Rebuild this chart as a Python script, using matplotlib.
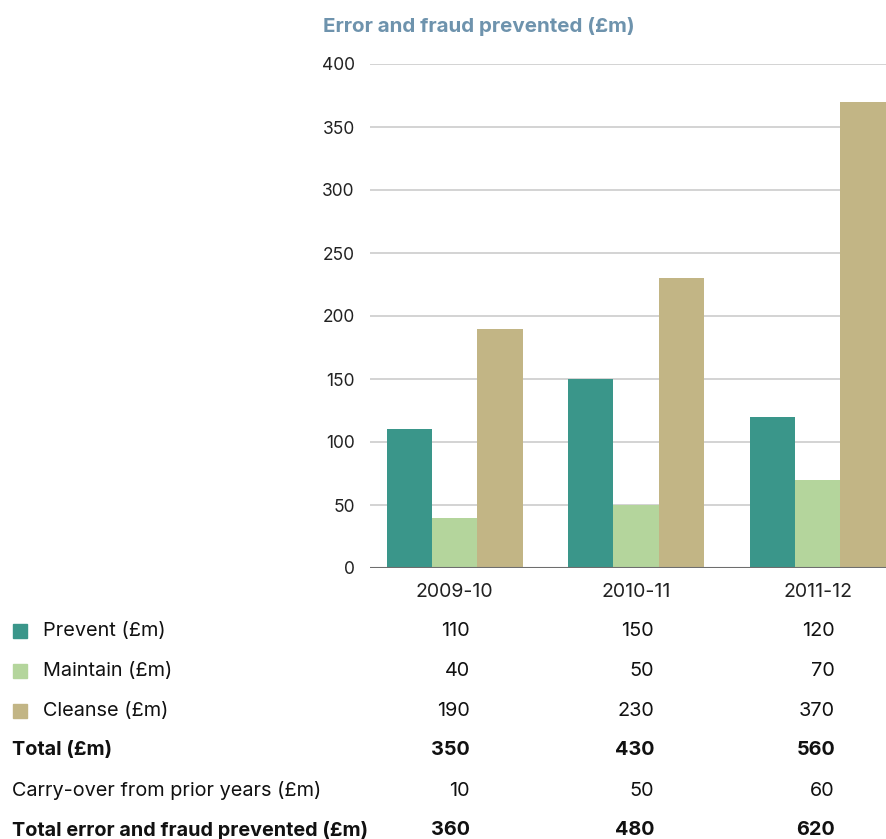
import matplotlib
matplotlib.use("Agg")
import matplotlib.pyplot as plt
from matplotlib.patches import Rectangle
import numpy as np

plt.rcParams['font.family'] = ['Inter', 'DejaVu Sans']

years = ["2009-10", "2010-11", "2011-12"]
prevent = [110, 150, 120]
maintain = [40, 50, 70]
cleanse = [190, 230, 370]
total = [350, 430, 560]
carry_over = [10, 50, 60]
grand_total = [360, 480, 620]

series_names = ["Prevent (£m)", "Maintain (£m)", "Cleanse (£m)"]
colors = ["#3a968a", "#b4d59c", "#c2b585"]
title = "Error and fraud prevented (£m)"
yticks = [0, 50, 100, 150, 200, 250, 300, 350, 400]

W, H = 886, 839
fig = plt.figure(figsize=(W / 100, H / 100), dpi=100)
ax = fig.add_axes([370 / W, 1 - 568 / H, 516 / W, (568 - 64) / H])

x = np.arange(len(years))
bw = 0.25
for i, (vals, c) in enumerate(zip([prevent, maintain, cleanse], colors)):
    ax.bar(x + (i - 1) * bw, vals, width=bw, color=c, zorder=3)

ax.set_xlim(-0.466, 2.377)
ax.set_ylim(0, 400)
ax.set_yticks(yticks)
ax.set_yticklabels([str(t) for t in yticks], fontsize=12.5, color="#222222")
ax.set_xticks(x)
ax.set_xticklabels(years, fontsize=14, color="#222222")
ax.tick_params(axis='both', length=0)
ax.tick_params(axis='y', pad=11)
ax.tick_params(axis='x', pad=11)
for t in yticks[1:]:
    ax.axhline(t, color="#cccccc", lw=1.2, zorder=1)
ax.axhline(0, color="#6e6e6e", lw=1.5, zorder=4)
for s in ax.spines.values():
    s.set_visible(False)

fig.text(323 / W, 1 - 27 / H, title, fontsize=14.8, fontweight='bold',
         color="#6e93ad", va='center', ha='left')

# table
row_y = [631, 671, 711, 750, 791, 830]
col_right = [470, 654, 835]
rows = [
    (series_names[0], prevent, 'normal', colors[0]),
    (series_names[1], maintain, 'normal', colors[1]),
    (series_names[2], cleanse, 'normal', colors[2]),
    ("Total (£m)", total, 'bold', None),
    ("Carry-over from prior years (£m)", carry_over, 'normal', None),
    ("Total error and fraud prevented (£m)", grand_total, 'bold', None),
]
for (label, vals, weight, col), yy in zip(rows, row_y):
    yf = 1 - yy / H
    if col is not None:
        fig.patches.append(Rectangle((13 / W, 1 - (yy + 7) / H), 14 / W, 14 / H,
                                     transform=fig.transFigure, color=col, figure=fig))
        lx = 43
    else:
        lx = 12
    fig.text(lx / W, yf, label, fontsize=14.3, fontweight=weight, color="#111111",
             va='center', ha='left')
    for v, cr in zip(vals, col_right):
        fig.text(cr / W, yf, str(v), fontsize=14.3, fontweight=weight, color="#111111",
                 va='center', ha='right')

fig.savefig("out.png", dpi=100)
